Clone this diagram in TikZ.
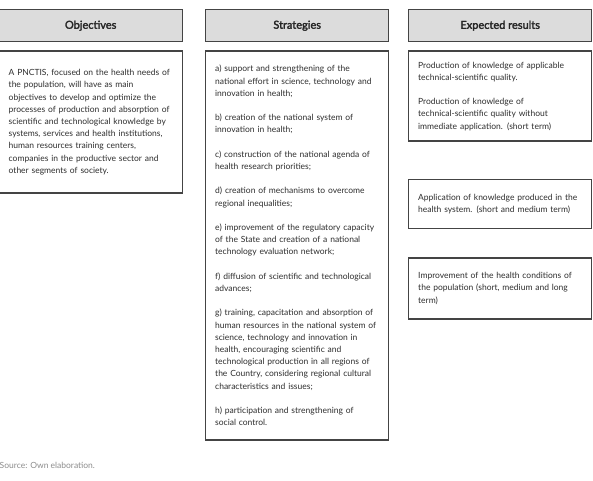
\documentclass[tikz,border=0pt]{standalone}
\usepackage{fontspec}
\setmainfont{Lato}
\newfontfamily\headfont{Lato}[FakeBold=2.4]
\usepackage{xcolor}
\usepackage{tikz}
\usetikzlibrary{positioning}

\definecolor{boxline}{HTML}{444444}
\definecolor{headfill}{HTML}{DCDCDC}
\definecolor{bodytext}{HTML}{2E2E2E}
\definecolor{srctext}{HTML}{8C8C8C}

\begin{document}
\begin{tikzpicture}[x=1pt, y=1pt,
    every node/.style={font=\fontsize{8.5}{12.2}\selectfont, text=bodytext},
    headbox/.style={draw=boxline, line width=1.4pt, fill=headfill, rectangle,
        minimum width=183pt, minimum height=32pt, inner sep=0pt,
        font=\headfont\fontsize{11}{13}\selectfont, text=black!85},
    bodybox/.style={draw=boxline, line width=1.4pt, fill=white, rectangle,
        text width=164pt, inner xsep=9.5pt, inner ysep=0pt, align=left}]
    \useasboundingbox (0,0) rectangle (593,-480);

    % Column 1: Objectives
    \node[headbox, anchor=north west] (objhead) at (-1.5,-9) {Objectives};
    \node[bodybox, below=8pt of objhead, minimum height=142pt] (objbody)
        {A PNCTIS, focused on the health needs of\\
         the population, will have as main\\
         objectives to develop and optimize the\\
         processes of production and absorption of\\
         scientific and technological knowledge by\\
         systems, services and health institutions,\\
         human resources training centers,\\
         companies in the productive sector and\\
         other segments of society.};

    % Column 2: Strategies
    \node[headbox, anchor=north west] (strathead) at (205,-9) {Strategies};
    \node[bodybox, below=8pt of strathead, minimum height=389pt] (stratbody)
        {a) support and strengthening of the\\
         national effort in science, technology and\\
         innovation in health;\\[12.2pt]
         b) creation of the national system of\\
         innovation in health;\\[12.2pt]
         c) construction of the national agenda of\\
         health research priorities;\\[12.2pt]
         d) creation of mechanisms to overcome\\
         regional inequalities;\\[12.2pt]
         e) improvement of the regulatory capacity\\
         of the State and creation of a national\\
         technology evaluation network;\\[12.2pt]
         f) diffusion of scientific and technological\\
         advances;\\[12.2pt]
         g) training, capacitation and absorption of\\
         human resources in the national system of\\
         science, technology and innovation in\\
         health, encouraging scientific and\\
         technological production in all regions of\\
         the Country, considering regional cultural\\
         characteristics and issues;\\[12.2pt]
         h) participation and strengthening of\\
         social control.};

    % Column 3: Expected results
    \node[headbox, anchor=north west] (reshead) at (408,-9) {Expected results};
    \node[bodybox, below=8pt of reshead, minimum height=90pt] (resshort)
        {Production of knowledge of applicable\\
         technical-scientific quality.\\[12.2pt]
         Production of knowledge of\\
         technical-scientific quality without\\
         immediate application. (short term)};
    \node[bodybox, below=37pt of resshort, minimum height=49pt] (resmedium)
        {Application of knowledge produced in the\\
         health system. (short and medium term)};
    \node[bodybox, below=28pt of resmedium, minimum height=61pt] (reslong)
        {Improvement of the health conditions of\\
         the population (short, medium and long\\
         term)};

    % Source
    \node[anchor=base west, inner sep=0pt, text=srctext] (source) at (-0.5,-468)
        {Source: Own elaboration.};
\end{tikzpicture}
\end{document}
